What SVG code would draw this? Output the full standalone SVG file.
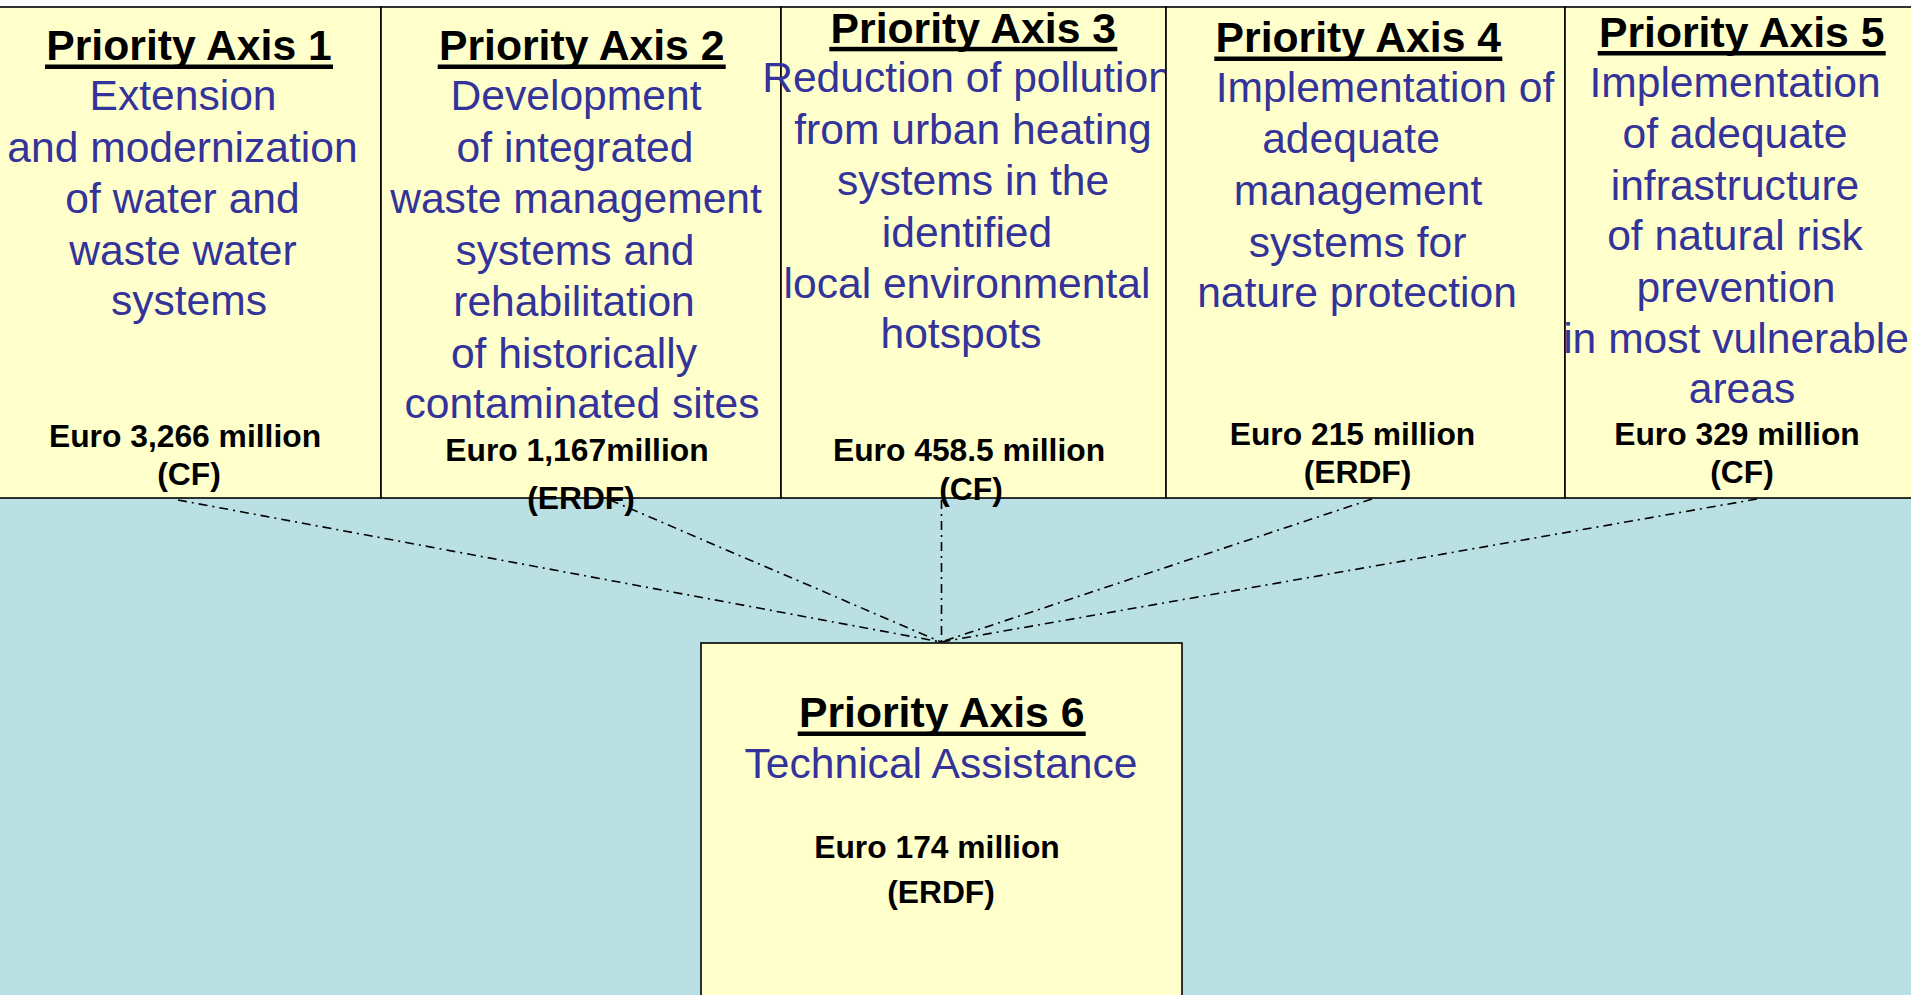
<svg xmlns="http://www.w3.org/2000/svg" width="1911" height="995" viewBox="0 0 1911 995">
<style>
.box{fill:#FFFFCC;stroke:#000;stroke-width:1.6}
.t{font-family:"Liberation Sans",Arial,sans-serif;font-weight:bold;font-size:42.7px;fill:#000;text-anchor:middle}
.u{fill:#000}
.d{font-family:"Liberation Sans",Arial,sans-serif;font-size:42.6px;fill:#333399;text-anchor:middle}
.e{font-family:"Liberation Sans",Arial,sans-serif;font-weight:bold;font-size:31.8px;fill:#000;text-anchor:middle}
.c{fill:none;stroke:#000;stroke-width:1.6;stroke-dasharray:9 5 2 5}
</style>
<rect x="0" y="0" width="1911" height="995" fill="#BAE0E3"/>
<rect x="0" y="0" width="1911" height="8" fill="#FFFFFF"/>
<g id="connectors">
<line class="c" x1="178" y1="500" x2="941" y2="642"/>
<line class="c" x1="610" y1="500" x2="941" y2="642"/>
<line class="c" x1="941.5" y1="500" x2="941.5" y2="642"/>
<line class="c" x1="1372" y1="499" x2="941" y2="642"/>
<line class="c" x1="1757" y1="499" x2="941" y2="642"/>
</g>
<g id="axis1">
<rect class="box" x="-2" y="7" width="383" height="491"/>
<text class="t" x="189" y="60">Priority Axis 1</text>
<rect class="u" x="45" y="64.5" width="288" height="4.5"/>
<text class="d" x="183" y="110">Extension</text>
<text class="d" x="182.5" y="162">and modernization</text>
<text class="d" x="182.5" y="213">of water and</text>
<text class="d" x="183" y="265">waste water</text>
<text class="d" x="189" y="315">systems</text>
<text class="e" x="185" y="447">Euro 3,266 million</text>
<text class="e" x="189" y="485">(CF)</text>
</g>
<g id="axis2">
<rect class="box" x="381" y="7" width="400" height="491"/>
<text class="t" x="581.7" y="60">Priority Axis 2</text>
<rect class="u" x="437.7" y="64.5" width="288" height="4.5"/>
<text class="d" x="576" y="110">Development</text>
<text class="d" x="575" y="162">of integrated</text>
<text class="d" x="576" y="213">waste management</text>
<text class="d" x="575" y="265">systems and</text>
<text class="d" x="574" y="316">rehabilitation</text>
<text class="d" x="574" y="368">of historically</text>
<text class="d" x="582" y="418">contaminated sites</text>
<text class="e" x="577" y="461">Euro 1,167million</text>
<text class="e" x="581" y="509">(ERDF)</text>
</g>
<g id="axis3">
<rect class="box" x="781" y="7" width="385" height="491"/>
<text class="t" x="973.3" y="43">Priority Axis 3</text>
<rect class="u" x="829.3" y="46.8" width="288" height="4.5"/>
<text class="d" x="967" y="92">Reduction of pollution</text>
<text class="d" x="973" y="144">from urban heating</text>
<text class="d" x="973" y="195">systems in the</text>
<text class="d" x="967" y="247">identified</text>
<text class="d" x="967" y="298">local environmental</text>
<text class="d" x="961" y="348">hotspots</text>
<text class="e" x="969" y="461">Euro 458.5 million</text>
<text class="e" x="971" y="500">(CF)</text>
</g>
<g id="axis4">
<rect class="box" x="1166" y="7" width="399" height="491"/>
<text class="t" x="1358.3" y="52">Priority Axis 4</text>
<rect class="u" x="1214.3" y="56.5" width="288" height="4.5"/>
<text class="d" x="1385" y="102">Implementation of</text>
<text class="d" x="1351" y="153">adequate</text>
<text class="d" x="1358" y="205">management</text>
<text class="d" x="1357.5" y="257">systems for</text>
<text class="d" x="1357" y="307">nature protection</text>
<text class="e" x="1352.5" y="445">Euro 215 million</text>
<text class="e" x="1357.5" y="483">(ERDF)</text>
</g>
<g id="axis5">
<rect class="box" x="1565" y="7" width="360" height="491"/>
<text class="t" x="1741.7" y="47">Priority Axis 5</text>
<rect class="u" x="1597.7" y="51" width="288" height="4.5"/>
<text class="d" x="1735" y="97">Implementation</text>
<text class="d" x="1735" y="148">of adequate</text>
<text class="d" x="1735" y="200">infrastructure</text>
<text class="d" x="1735" y="250">of natural risk</text>
<text class="d" x="1736" y="302">prevention</text>
<text class="d" x="1736" y="353">in most vulnerable</text>
<text class="d" x="1742" y="403">areas</text>
<text class="e" x="1737" y="445">Euro 329 million</text>
<text class="e" x="1742" y="483">(CF)</text>
</g>
<g id="axis6">
<rect class="box" x="701" y="643" width="481" height="360"/>
<text class="t" x="941.7" y="727">Priority Axis 6</text>
<rect class="u" x="797.7" y="731.5" width="288" height="4.5"/>
<text class="d" x="941" y="778">Technical Assistance</text>
<text class="e" x="937" y="858">Euro 174 million</text>
<text class="e" x="941" y="903">(ERDF)</text>
</g>
</svg>
